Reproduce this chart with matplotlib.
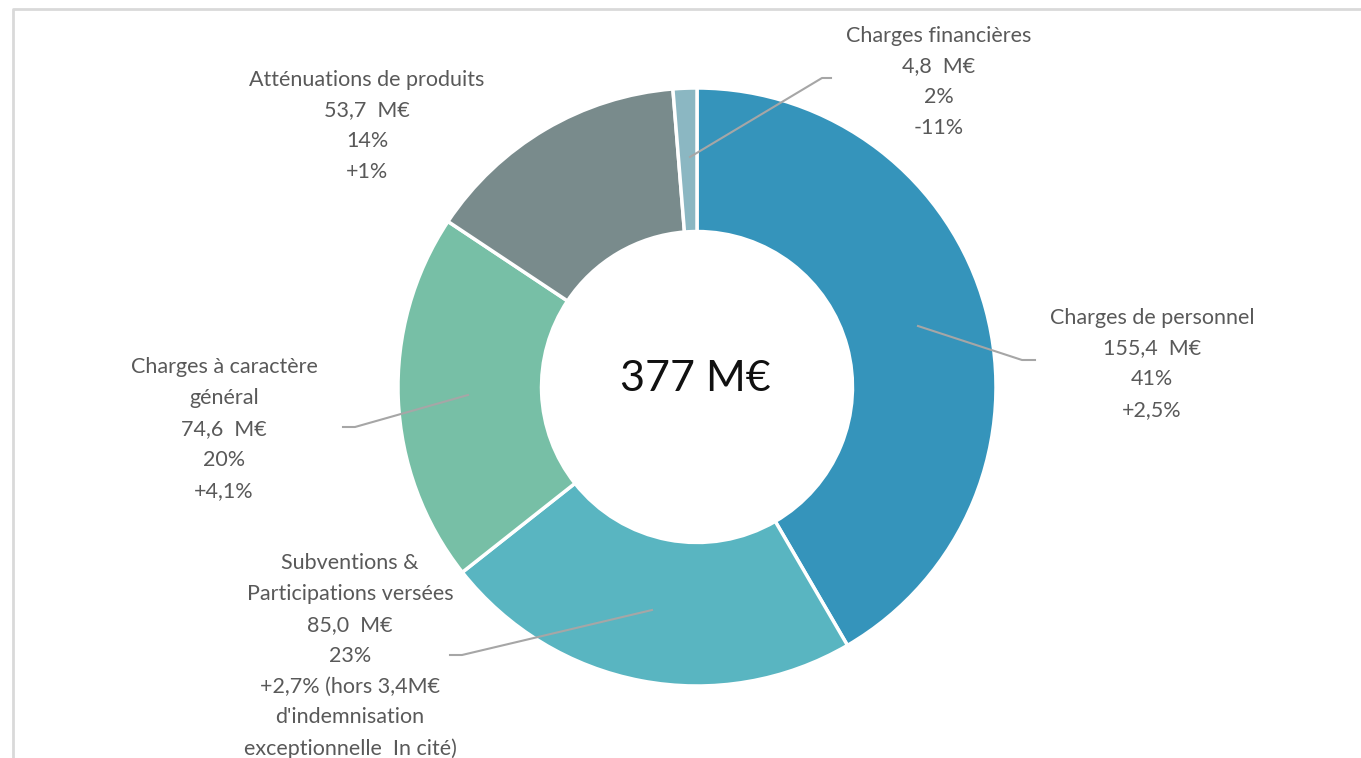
import matplotlib
matplotlib.use("Agg")
import matplotlib.pyplot as plt
from matplotlib.lines import Line2D

# data
labels = ["Charges de personnel", "Subventions &\nParticipations versées",
          "Charges à caractère\ngénéral", "Atténuations de produits",
          "Charges financières"]
amounts = [155.4, 85.0, 74.6, 53.7, 4.8]
shares = ["41%", "23%", "20%", "14%", "2%"]
changes = ["+2,5%", "+2,7% (hors 3,4M€\nd'indemnisation\nexceptionnelle  In cité)",
           "+4,1%", "+1%", "-11%"]
colors = ["#3594BB", "#59B5C1", "#77BFA6", "#798B8C", "#8BB7C2"]
total_label = "377 M€"

W, H = 1361, 758
fig = plt.figure(figsize=(W / 100, H / 100), dpi=100)
ax = fig.add_axes([0, 0, 1, 1])

def py(y):
    # pixel row from the top -> data y
    return H - y

cx, cy, r = 697, py(387), 299
ax.pie(amounts, colors=colors, startangle=90, counterclock=False,
       center=(cx, cy), radius=r, frame=True,
       wedgeprops=dict(width=r * 0.48, edgecolor="white", linewidth=2.5))
ax.set_xlim(0, W)
ax.set_ylim(0, H)
ax.axis("off")

ax.text(cx - 2, py(379), total_label, ha="center", va="center",
        fontsize=31, color="#111111", family="Lato")

# label positions (centre x, centre y) and leader lines, in pixels
label_pos = [(1152, 364), (350, 656), (224, 429), (367, 126), (939, 82)]
leaders = [[(918, 326), (1022, 360), (1035, 360)],
           [(652, 610), (462, 655), (450, 655)],
           [(468, 395), (355, 427), (343, 427)],
           None,
           [(690, 157), (822, 78), (831, 78)]]

for i in range(len(labels)):
    txt = "%s\n%.1f  M€\n%s\n%s" % (labels[i], amounts[i], shares[i], changes[i])
    txt = txt.replace(".", ",")
    x, y = label_pos[i]
    ax.text(x, py(y), txt, ha="center", va="center", fontsize=15.5,
            color="#595959", family="Lato", linespacing=1.68)
    if leaders[i]:
        xs = [p[0] for p in leaders[i]]
        ys = [py(p[1]) for p in leaders[i]]
        ax.plot(xs, ys, color="#A6A6A6", lw=1.5)

# chart frame (top and left edges visible)
fig.add_artist(Line2D([13 / W, 13 / W, 1], [0, 1 - 9 / H, 1 - 9 / H],
                      color="#D9D9D9", lw=2, transform=fig.transFigure))

fig.savefig("out.png", dpi=100)
